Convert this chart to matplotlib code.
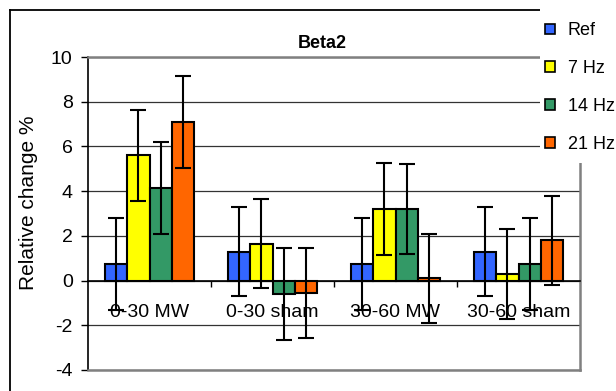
import numpy as np
import matplotlib.pyplot as plt
from matplotlib.patches import Rectangle, Patch
from matplotlib.lines import Line2D

plt.rcParams['font.family'] = ['Liberation Sans', 'DejaVu Sans']
plt.rcParams['axes.unicode_minus'] = False

# data
groups = ['0-30 MW', '0-30 sham', '30-60 MW', '30-60 sham']
series = ['Ref', '7 Hz', '14 Hz', '21 Hz']
colors = ['#3366FF', '#FFFF00', '#339966', '#FF6600']
ref_vals = [0.75, 1.3, 0.75, 1.3]
hz7_vals = [5.6, 1.65, 3.2, 0.3]
hz14_vals = [4.15, -0.6, 3.2, 0.75]
hz21_vals = [7.1, -0.55, 0.1, 1.8]
ref_err = [2.05, 2.0, 2.05, 2.0]
hz7_err = [2.05, 2.0, 2.05, 2.0]
hz14_err = [2.05, 2.05, 2.0, 2.05]
hz21_err = [2.05, 2.0, 2.0, 2.0]

values = [ref_vals, hz7_vals, hz14_vals, hz21_vals]
errors = [ref_err, hz7_err, hz14_err, hz21_err]

W, H = 616, 391
fig = plt.figure(figsize=(W / 100, H / 100), dpi=100)
ax = fig.add_axes([88 / W, 1 - 370 / H, (580 - 88) / W, (370 - 57) / H])

x = np.arange(len(groups))
bw = 0.18
for i, (vals, errs, c) in enumerate(zip(values, errors, colors)):
    pos = x + (i - 1.5) * bw
    ax.bar(pos, vals, width=bw, color=c, edgecolor='black', linewidth=1.5, zorder=3)
    ax.errorbar(pos, vals, yerr=errs, fmt='none', ecolor='black', elinewidth=1.5,
                capsize=6, capthick=1.5, zorder=4)

ax.set_xlim(-0.5, 3.5)
ax.set_ylim(-4, 10)
ax.set_yticks(np.arange(-4, 11, 2))
ax.tick_params(axis='y', labelsize=14, length=5, width=1, pad=6)
ax.yaxis.grid(True, color='#333333', linewidth=0.9, zorder=0)
ax.set_axisbelow(True)

# category axis crosses at zero
ax.spines['bottom'].set_position(('data', 0))
ax.spines['bottom'].set_linewidth(1.2)
ax.spines['left'].set_linewidth(1.2)
for s in ['top', 'right']:
    ax.spines[s].set_color('#808080')
    ax.spines[s].set_linewidth(1.8)
ax.axhline(-4, color='#808080', linewidth=1.8, clip_on=False, zorder=5)

ax.set_xticks([0.5, 1.5, 2.5])
ax.set_xticklabels([])
ax.tick_params(axis='x', which='major', length=4, width=1, direction='out')
ax.set_xticks(x, minor=True)
ax.set_xticklabels(groups, minor=True)
ax.tick_params(axis='x', which='minor', length=0, labelsize=14, pad=17)
for lbl in ax.get_xticklabels(minor=True):
    lbl.set_zorder(6)

fig.text(322 / W, 1 - 44 / H, 'Beta2', ha='center', va='center',
         fontsize=13, fontweight='bold')
fig.text(29 / W, 1 - 203 / H, 'Relative change %', rotation=90,
         ha='center', va='center', fontsize=15)

# chart frame
fig.add_artist(Line2D([9.5 / W, 9.5 / W], [0, 1 - 10 / H], color='black', linewidth=1.3))
fig.add_artist(Line2D([9.5 / W, 1], [1 - 10 / H, 1 - 10 / H], color='black', linewidth=1.3))

# legend area
fig.add_artist(Rectangle((540 / W, 1 - 163 / H), (W - 540) / W, 160 / H,
                         facecolor='white', edgecolor='none', zorder=8))
handles = [Patch(facecolor=c, edgecolor='black', linewidth=1.2) for c in colors]
leg = fig.legend(handles, series, loc='upper left', bbox_to_anchor=(540 / W, 1 - 17 / H),
                 frameon=False, fontsize=13, handlelength=0.55, handleheight=0.55,
                 handletextpad=0.7, labelspacing=1.15, borderaxespad=0, borderpad=0.3)
leg.set_zorder(10)

fig.savefig('out.png', dpi=100)
